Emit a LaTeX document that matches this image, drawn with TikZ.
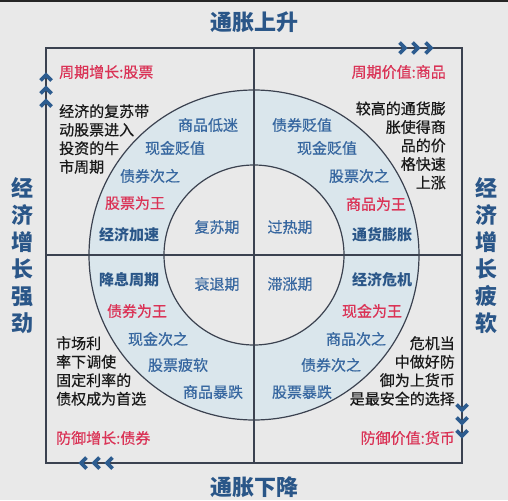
\documentclass[tikz,border=0pt]{standalone}
\usepackage{fontspec}
\setmainfont{Noto Sans CJK SC}
\newfontfamily\medf[FakeBold=0.5]{Noto Sans CJK SC}
\begin{document}
\definecolor{bg}{HTML}{E9E9E9}
\definecolor{ring}{HTML}{DAE6EC}
\definecolor{ln}{HTML}{3B4250}
\definecolor{txtblue}{HTML}{3767A0}
\definecolor{dkblue}{HTML}{2A5688}
\definecolor{chev}{HTML}{2D5C8F}
\definecolor{rd}{HTML}{DA3356}
\tikzset{
  body/.style={font=\medf\fontsize{15}{18.5}\selectfont, text=black!90, inner sep=0pt},
  ringtxt/.style={font=\medf\fontsize{15}{17}\selectfont, text=txtblue, inner sep=0pt},
  ringbold/.style={font=\fontsize{15}{17}\selectfont\bfseries, text=dkblue, inner sep=0pt},
  ringred/.style={font=\medf\fontsize{15}{17}\selectfont, text=rd, inner sep=0pt},
  redlbl/.style={font=\medf\fontsize{15}{17}\selectfont, text=rd, inner sep=0pt},
  title/.style={font=\fontsize{22}{26}\selectfont\bfseries, text=dkblue, inner sep=0pt},
  side/.style={font=\fontsize{22}{27}\selectfont\bfseries, text=dkblue, inner sep=0pt, align=center},
  chevline/.style={draw=chev, line width=3.6pt, miter limit=10},
  frameline/.style={draw=ln, line width=1.2pt},
  chevup/.pic={\draw[chevline] (-5.5,3.5) -- (0,-2) -- (5.5,3.5);},
  chevdown/.pic={\draw[chevline] (-5.5,-3.5) -- (0,2) -- (5.5,-3.5);},
  chevright/.pic={\draw[chevline] (-3.5,-5.5) -- (2,0) -- (-3.5,5.5);},
  chevleft/.pic={\draw[chevline] (3.5,-5.5) -- (-2,0) -- (3.5,5.5);}
}
\begin{tikzpicture}[x=1pt,y=-1pt]
\fill[bg] (0,0) rectangle (508,500);
\useasboundingbox (0,0) rectangle (508,500);
\fill[black!85] (0,0) rectangle (508,2.5);
% rings
\fill[ring] (254,255) circle (165);
\fill[bg] (254,255) circle (90);
\draw[frameline] (254,255) circle (165);
\draw[frameline] (254,255) circle (90);
% frame and cross
\coordinate (tl) at (46,48);
\coordinate (br) at (462,463);
\coordinate (ctop) at (254,48);
\coordinate (cbot) at (254,463);
\coordinate (cleft) at (46,255);
\coordinate (cright) at (462,255);
\draw[frameline] (tl) rectangle (br);
\draw[frameline] (ctop) -- (cbot);
\draw[frameline] (cleft) -- (cright);
% chevrons
\foreach \y in {77,90,103} \pic at (46,\y) {chevup};
\foreach \x in {403,416,429} \pic at (\x,48) {chevright};
\foreach \y in {408,421,434} \pic at (462,\y) {chevdown};
\foreach \x in {83,96,109} \pic at (\x,463) {chevleft};
% titles
\node[title] (ttop) at (254,22) {通胀上升};
\node[title] (tbot) at (254,487) {通胀下降};
\node[side] (tleft) at (22,256) {经\\济\\增\\长\\强\\劲};
\node[side] (tright) at (486,256) {经\\济\\增\\长\\疲\\软};
% corner labels
\node[redlbl, anchor=west] (lbl1) at (59,72) {周期增长:股票};
\node[redlbl, anchor=east] (lbl2) at (446,72) {周期价值:商品};
\node[redlbl, anchor=west] (lbl3) at (56,438) {防御增长:债券};
\node[redlbl, anchor=east] (lbl4) at (455,438) {防御价值:货币};
% paragraphs
\node[body, anchor=west, align=left] (p1) at (59,139) {经济的复苏带\\动股票进入\\投资的牛\\市周期};
\node[body, anchor=east, align=right] (p2) at (446,145.5) {较高的通货膨\\胀使得商\\品的价\\格快速\\上涨};
\node[body, anchor=west, align=left] (p3) at (56,371) {市场利\\率下调使\\固定利率的\\债权成为首选};
\node[body, anchor=east, align=right] (p4) at (455,371) {危机当\\中做好防\\御为上货币\\是最安全的选择};
% inner circle
\node[ringtxt] (c1) at (217,227) {复苏期};
\node[ringtxt] (c2) at (290,227) {过热期};
\node[ringtxt] (c3) at (217,284) {衰退期};
\node[ringtxt] (c4) at (290,284) {滞涨期};
% TL ring
\node[ringtxt] (a1) at (208,125) {商品低迷};
\node[ringtxt] (a2) at (175,148) {现金贬值};
\node[ringtxt] (a3) at (150,176) {债券次之};
\node[ringred] (a4) at (135,203) {股票为王};
\node[ringbold] (a5) at (129,235) {经济加速};
% TR ring
\node[ringtxt] (b1) at (302,125) {债券贬值};
\node[ringtxt] (b2) at (327,148) {现金贬值};
\node[ringtxt] (b3) at (359,176) {股票次之};
\node[ringred] (b4) at (376,204) {商品为王};
\node[ringbold] (b5) at (382,235) {通货膨胀};
% BL ring
\node[ringbold] (d1) at (129,280) {降息周期};
\node[ringred] (d2) at (137,311) {债券为王};
\node[ringtxt] (d3) at (158,339) {现金次之};
\node[ringtxt] (d4) at (178,365) {股票疲软};
\node[ringtxt] (d5) at (213,392) {商品暴跌};
% BR ring
\node[ringbold] (e1) at (382,280) {经济危机};
\node[ringred] (e2) at (372,311) {现金为王};
\node[ringtxt] (e3) at (356,339) {商品次之};
\node[ringtxt] (e4) at (331,365) {债券次之};
\node[ringtxt] (e5) at (302,392) {股票暴跌};
\end{tikzpicture}
\end{document}
